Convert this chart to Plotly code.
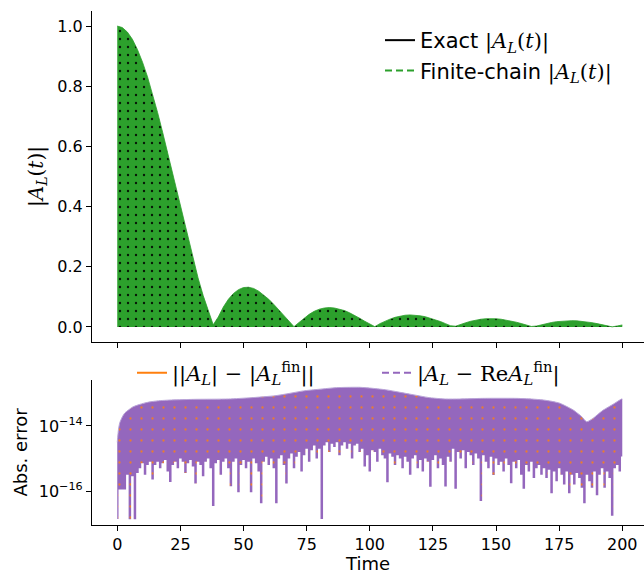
import numpy as np
import plotly.graph_objects as go

# ---------------- data ----------------
# Upper envelope of the fast oscillation of |A_L(t)|, sampled every 2 time units
t_env = list(range(0, 201, 2))
env_peak = [1.000, 0.995, 0.980, 0.956, 0.922, 0.880, 0.831, 0.774, 0.712, 0.646,
            0.577, 0.505, 0.434, 0.362, 0.293, 0.226, 0.163, 0.105, 0.053, 0.007,
            0.033, 0.066, 0.092, 0.111, 0.124, 0.131, 0.132, 0.128, 0.119, 0.107,
            0.092, 0.075, 0.057, 0.038, 0.019, 0.001, 0.015, 0.030, 0.042, 0.052,
            0.059, 0.063, 0.0645, 0.063, 0.060, 0.0545, 0.047, 0.039, 0.029, 0.019,
            0.009, 0.001, 0.011, 0.019, 0.026, 0.032, 0.036, 0.039, 0.040, 0.039,
            0.037, 0.034, 0.029, 0.024, 0.018, 0.011, 0.004, 0.0025, 0.009, 0.014,
            0.019, 0.023, 0.0257, 0.0274, 0.0279, 0.0273, 0.0257, 0.0232, 0.0198, 0.0158,
            0.0113, 0.0065, 0.0017, 0.003, 0.0075, 0.0115, 0.0149, 0.0176, 0.0195, 0.0206,
            0.0209, 0.0203, 0.019, 0.0169, 0.0143, 0.0111, 0.0077, 0.004, 0.0003, 0.0033,
            0.0067]

# Absolute error: upper envelope (log10) at selected times
t_err_top = [0, 0.5, 1, 2, 3, 4.4, 6, 8.3, 11, 13.6, 17, 21.5, 30.8, 44, 53,
             62.5, 68, 73.7, 80, 86.9, 96, 101, 106.7, 111, 115.9, 123.8, 130,
             135.7, 145, 158, 164, 168.7, 172, 175.3, 178, 180.6, 183.9, 185.9,
             188.5, 190.5, 192.5, 196.4, 199.7, 200]
log_err_top = [-14.5, -14.1, -13.9, -13.72, -13.6, -13.51, -13.42, -13.35, -13.29,
               -13.25, -13.22, -13.2, -13.18, -13.17, -13.13, -13.07, -13.0, -12.92,
               -12.87, -12.82, -12.81, -12.84, -12.89, -12.95, -13.02, -13.13, -13.17,
               -13.17, -13.15, -13.15, -13.17, -13.2, -13.24, -13.30, -13.40, -13.51,
               -13.71, -13.87, -13.76, -13.63, -13.51, -13.33, -13.17, -13.17]

# Absolute error: lower envelope (log10) per unit time, including the deep dips
t_err_low = list(range(0, 201))
log_err_low = [
    -16.86, -15.95, -15.95, -15.95, -15.5, -16.87, -15.55, -16.87, -15.45, -15.3,
    -15.15, -15.5, -15.2, -15.1, -15.65, -15.2, -15.1, -15.3, -15.15, -15.05,
    -15.4, -15.72, -15.2, -15.1, -15.3, -15.0, -15.1, -15.45, -15.15, -15.05,
    -15.25, -15.77, -15.1, -15.2, -15.55, -15.1, -15.0, -15.3, -16.46, -15.15,
    -15.05, -15.5, -15.1, -15.0, -15.3, -15.85, -15.1, -15.0, -16.04, -15.2,
    -15.05, -15.3, -15.1, -16.04, -15.0, -15.15, -15.4, -16.38, -15.1, -14.95,
    -15.2, -15.0, -15.3, -16.38, -15.0, -14.9, -15.2, -15.77, -15.0, -14.85,
    -15.3, -14.95, -14.8, -15.4, -14.9, -14.7, -15.1, -14.75, -14.6, -15.0,
    -14.7, -16.86, -14.6, -14.5, -14.8, -14.55, -14.65, -14.5, -14.9, -14.6,
    -14.5, -14.7, -14.55, -15.0, -14.6, -14.55, -14.8, -14.7, -15.25, -14.9,
    -15.4, -14.75, -14.8, -15.1, -14.7, -14.9, -15.0, -15.73, -14.85, -14.95,
    -15.2, -14.9, -15.0, -15.3, -14.95, -15.1, -15.5, -15.0, -14.9, -15.3,
    -15.05, -15.4, -15.0, -15.1, -15.87, -15.05, -14.9, -15.3, -15.0, -15.2,
    -15.86, -14.95, -15.1, -14.7, -15.93, -14.8, -15.0, -14.75, -15.3, -14.8,
    -14.9, -15.2, -14.85, -15.0, -16.31, -14.9, -15.1, -15.3, -14.95, -15.51,
    -15.0, -15.2, -15.1, -15.4, -15.0, -15.2, -15.76, -15.1, -15.3, -15.05,
    -15.5, -15.93, -15.2, -15.4, -15.1, -15.6, -15.3, -15.2, -15.5, -15.3,
    -15.6, -15.35, -16.07, -15.4, -15.7, -15.3, -15.5, -15.8, -15.4, -16.07,
    -15.5, -15.8, -15.45, -15.6, -15.9, -16.38, -15.5, -15.7, -15.9, -15.4,
    -16.13, -15.5, -15.3, -15.9, -15.4, -15.6, -16.76, -15.3, -15.2, -15.4,
    -14.94]

x_ticks = [0, 25, 50, 75, 100, 125, 150, 175, 200]
y_ticks_top = [0.0, 0.2, 0.4, 0.6, 0.8, 1.0]
y_ticks_err = [1e-14, 1e-16]
y_ticktext_err = ["10<sup>−14</sup>", "10<sup>−16</sup>"]

# ---------------- style ----------------
GREEN = "#2ca02c"
ORANGE = "#ff7f0e"
PURPLE = "#9467bd"
SANS = "DejaVu Sans"
SERIF = "DejaVu Serif"

W, H = 644, 574


def math(s):
    return f'<span style="font-family:{SERIF}">{s}</span>'


AL = "<i>A</i><sub><i>L</i></sub>"
AL_t = math(f"|{AL}(<i>t</i>)|")
AL_fin = "<i>A</i><sub><i>L</i></sub><sup>fin</sup>"

fig = go.Figure()

# ---- top panel: |A_L(t)| (dense oscillation filling the envelope)
fig.add_trace(go.Scatter(
    x=t_env, y=env_peak, mode="lines",
    line=dict(color=GREEN, width=0.8),
    fill="tozeroy", fillcolor=GREEN,
    fillpattern=dict(shape=".", fgcolor="black", bgcolor=GREEN, fgopacity=0.85,
                     size=8, solidity=0.07, fillmode="replace"),
    xaxis="x", yaxis="y", showlegend=False, hoverinfo="skip"))

fig.add_trace(go.Scatter(
    x=[None], y=[None], mode="lines", line=dict(color="black", width=2),
    name="Exact " + AL_t, legend="legend",
    xaxis="x", yaxis="y"))
fig.add_trace(go.Scatter(
    x=[None], y=[None], mode="lines",
    line=dict(color=GREEN, width=2, dash="7px,4px"),
    name="Finite-chain " + AL_t, legend="legend",
    xaxis="x", yaxis="y"))

# ---- bottom panel: absolute errors (log scale)
fig.add_trace(go.Scatter(
    x=t_err_low, y=[10.0 ** v for v in log_err_low], mode="lines",
    line=dict(color=PURPLE, width=0, shape="hvh"),
    xaxis="x2", yaxis="y2", showlegend=False, hoverinfo="skip"))
fig.add_trace(go.Scatter(
    x=t_err_top, y=[10.0 ** v for v in log_err_top], mode="lines",
    line=dict(color="#b9a3d8", width=1, shape="spline", smoothing=0.6),
    fill="tonexty", fillcolor=PURPLE,
    fillpattern=dict(shape=".", fgcolor=ORANGE, bgcolor=PURPLE, fgopacity=0.8,
                     size=11, solidity=0.035, fillmode="replace"),
    xaxis="x2", yaxis="y2", showlegend=False, hoverinfo="skip"))

fig.add_trace(go.Scatter(
    x=[None], y=[None], mode="lines", line=dict(color=ORANGE, width=2),
    name=math(f"||{AL}| − |{AL_fin}||"), legend="legend2",
    xaxis="x2", yaxis="y2"))
fig.add_trace(go.Scatter(
    x=[None], y=[None], mode="lines",
    line=dict(color=PURPLE, width=2, dash="7px,4px"),
    name=math(f"|{AL} − Re{AL_fin}|"), legend="legend2",
    xaxis="x2", yaxis="y2"))

# ---------------- layout ----------------
x0 = 92 / W
top_dom = [1 - 342 / H, 1 - 11 / H]
bot_dom = [1 - 525 / H, 1 - 380 / H]

axis_common = dict(showline=True, linecolor="black", linewidth=1.2,
                   ticks="outside", ticklen=5, tickwidth=1.2, tickcolor="black",
                   showgrid=False, zeroline=False,
                   tickfont=dict(family=SANS, size=16, color="black"))

fig.update_layout(
    width=W, height=H,
    margin=dict(l=0, r=0, t=0, b=0),
    paper_bgcolor="white", plot_bgcolor="white",
    font=dict(family=SANS, color="black"),
    xaxis=dict(domain=[x0, 1], range=[-10, 208.6], anchor="y",
               tickvals=x_ticks, showticklabels=False, **axis_common),
    yaxis=dict(domain=top_dom, range=[-0.05, 1.05], anchor="x",
               tickvals=y_ticks_top, ticktext=[f"{v:.1f}" for v in y_ticks_top],
               title=dict(text=AL_t, font=dict(size=20), standoff=8),
               **axis_common),
    xaxis2=dict(domain=[x0, 1], range=[-10, 208.6], anchor="y2",
                tickvals=x_ticks,
                title=dict(text="Time", font=dict(family=SANS, size=18), standoff=4),
                **axis_common),
    yaxis2=dict(domain=bot_dom, type="log", range=[-17.046, -12.585], anchor="x2",
                tickvals=y_ticks_err, ticktext=y_ticktext_err,
                title=dict(text="Abs. error", font=dict(family=SANS, size=18), standoff=6),
                **axis_common),
    legend=dict(x=380 / W, y=1 - 20 / H, xanchor="left", yanchor="top",
                traceorder="normal",
                font=dict(family=SANS, size=21, color="black"),
                bgcolor="rgba(0,0,0,0)", tracegroupgap=0),
    legend2=dict(orientation="h", x=132 / W, y=1 - 373 / H, xanchor="left",
                 yanchor="middle", entrywidth=200, traceorder="normal",
                 font=dict(family=SANS, size=21, color="black"),
                 bgcolor="rgba(0,0,0,0)"),
)

fig.write_html("out.html")
